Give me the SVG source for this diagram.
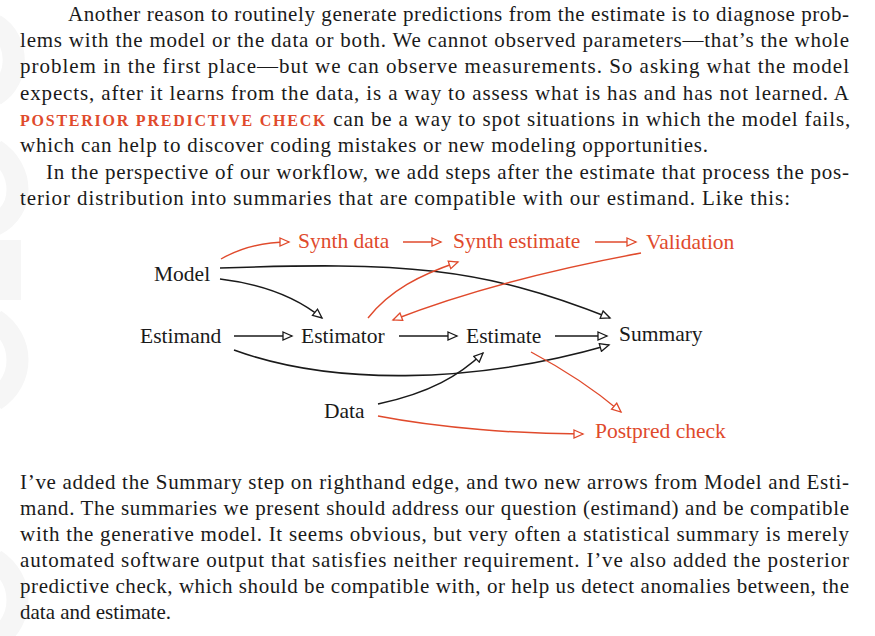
<svg xmlns="http://www.w3.org/2000/svg" width="875" height="636" viewBox="0 0 875 636">
<style>
.t{font-family:"Liberation Serif","DejaVu Serif",serif;font-size:21px;fill:#1a1a1a}
.n{font-family:"Liberation Serif","DejaVu Serif",serif;font-size:21.5px;fill:#1a1a1a}
.r{fill:#e04a2c}
.sc{font-size:16px;font-weight:bold;fill:#e04a2c;letter-spacing:0.6px}
.k{fill:none;stroke:#1a1a1a;stroke-width:1.6}
.kr{fill:none;stroke:#e04a2c;stroke-width:1.4}
.wm{fill:none;stroke:#f6f6f6;stroke-width:22}
</style>
<defs>
<marker id="ak" markerWidth="12" markerHeight="10" refX="10" refY="5" orient="auto" markerUnits="userSpaceOnUse"><path d="M1,1 L10,5 L1,9 Z" fill="#fff" stroke="#1a1a1a" stroke-width="1.3"/></marker>
<marker id="ar" markerWidth="12" markerHeight="10" refX="10" refY="5" orient="auto" markerUnits="userSpaceOnUse"><path d="M1,1 L10,5 L1,9 Z" fill="#fff" stroke="#e04a2c" stroke-width="1.3"/></marker>
</defs>
<rect width="875" height="636" fill="#fff"/>
<g id="watermark">
<path class="wm" d="M-5,25 C20,40 20,80 -5,95"/>
<path class="wm" d="M-5,150 C25,170 25,210 -5,225"/>
<path class="wm" d="M10,240 L10,300"/>
<path class="wm" d="M-5,320 C25,340 25,380 -5,400"/>
<path class="wm" d="M-5,560 C25,580 25,620 -5,640"/>
</g>
<g id="text-top" class="t">
<text x="68" y="21" textLength="781" lengthAdjust="spacing">Another reason to routinely generate predictions from the estimate is to diagnose prob-</text>
<text x="20" y="47" textLength="829" lengthAdjust="spacing">lems with the model or the data or both. We cannot observed parameters—that’s the whole</text>
<text x="20" y="73" textLength="829" lengthAdjust="spacing">problem in the first place—but we can observe measurements. So asking what the model</text>
<text x="20" y="100" textLength="829" lengthAdjust="spacing">expects, after it learns from the data, is a way to assess what is has and has not learned. A</text>
<text x="20" y="126"><tspan class="sc" textLength="306" lengthAdjust="spacing">POSTERIOR PREDICTIVE CHECK</tspan><tspan textLength="523" lengthAdjust="spacing"> can be a way to spot situations in which the model fails,</tspan></text>
<text x="20" y="152" textLength="688" lengthAdjust="spacing">which can help to discover coding mistakes or new modeling opportunities.</text>
<text x="46" y="179" textLength="803" lengthAdjust="spacing">In the perspective of our workflow, we add steps after the estimate that process the pos-</text>
<text x="20" y="205" textLength="770" lengthAdjust="spacing">terior distribution into summaries that are compatible with our estimand. Like this:</text>
</g>
<g id="connectors">
<path class="kr" marker-end="url(#ar)" d="M221,259 C240,248 262,242 289,242"/>
<path class="kr" marker-end="url(#ar)" d="M403,242 L441,242"/>
<path class="kr" marker-end="url(#ar)" d="M595,242 L636,242"/>
<path class="k" marker-end="url(#ak)" d="M220,268 C400,262 480,266 610,318"/>
<path class="k" marker-end="url(#ak)" d="M220,279 C270,285 300,300 322,318"/>
<path class="k" marker-end="url(#ak)" d="M234,336 L292,336"/>
<path class="k" marker-end="url(#ak)" d="M399,336 L457,336"/>
<path class="k" marker-end="url(#ak)" d="M555,336 L607,336"/>
<path class="k" marker-end="url(#ak)" d="M234,350 C330,385 470,385 609,345"/>
<path class="k" marker-end="url(#ak)" d="M378,404 C430,393 460,375 483,353"/>
<path class="kr" marker-end="url(#ar)" d="M368,318 C390,290 420,275 458,262"/>
<path class="kr" marker-end="url(#ar)" d="M641,253 C560,268 470,290 393,320"/>
<path class="kr" marker-end="url(#ar)" d="M531,352 C565,370 595,390 621,412"/>
<path class="kr" marker-end="url(#ar)" d="M378,416 C440,428 520,434 583,434"/>
</g>
<g id="node-synthdata"><text class="n r" x="298" y="248">Synth data</text></g>
<g id="node-synthestimate"><text class="n r" x="453" y="248">Synth estimate</text></g>
<g id="node-validation"><text class="n r" x="646" y="249">Validation</text></g>
<g id="node-model"><text class="n" x="154" y="281">Model</text></g>
<g id="node-estimand"><text class="n" x="140" y="343">Estimand</text></g>
<g id="node-estimator"><text class="n" x="301" y="343">Estimator</text></g>
<g id="node-estimate"><text class="n" x="466" y="343">Estimate</text></g>
<g id="node-summary"><text class="n" x="619" y="341">Summary</text></g>
<g id="node-data"><text class="n" x="324" y="418">Data</text></g>
<g id="node-postpred"><text class="n r" x="595" y="438">Postpred check</text></g>
<g id="text-bottom" class="t">
<text x="20" y="489" textLength="829" lengthAdjust="spacing">I’ve added the Summary step on righthand edge, and two new arrows from Model and Esti-</text>
<text x="20" y="515" textLength="829" lengthAdjust="spacing">mand. The summaries we present should address our question (estimand) and be compatible</text>
<text x="20" y="541" textLength="829" lengthAdjust="spacing">with the generative model. It seems obvious, but very often a statistical summary is merely</text>
<text x="20" y="567" textLength="829" lengthAdjust="spacing">automated software output that satisfies neither requirement. I’ve also added the posterior</text>
<text x="20" y="593" textLength="829" lengthAdjust="spacing">predictive check, which should be compatible with, or help us detect anomalies between, the</text>
<text x="20" y="619">data and estimate.</text>
</g>
</svg>
